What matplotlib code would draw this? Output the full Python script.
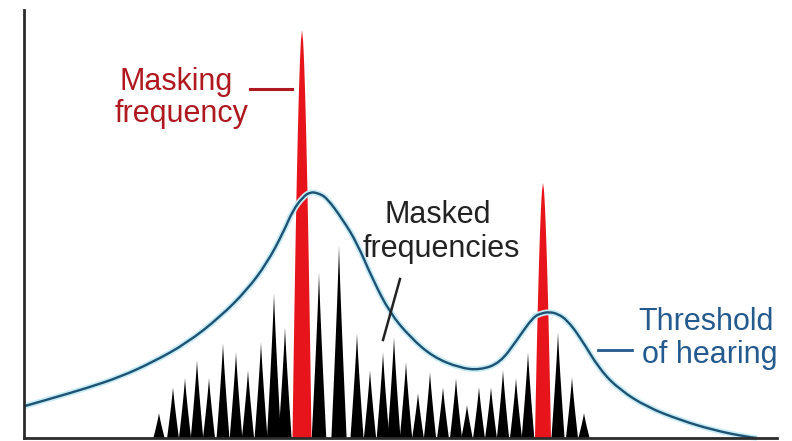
import numpy as np
import matplotlib
matplotlib.use("Agg")
import matplotlib.pyplot as plt
from matplotlib.patches import Polygon, PathPatch
from matplotlib.path import Path
import matplotlib.patheffects as pe

plt.rcParams['font.family'] = ['Liberation Sans', 'DejaVu Sans']

# Masked (quiet) tones: frequency position and level
masked_freq = [135, 149, 161, 173, 185, 199, 212, 224, 237, 250, 261,
               295, 315, 333, 346, 359, 370, 382, 394, 406, 419, 432, 443,
               455, 467, 479, 492, 504, 534, 548, 560]
masked_level = [25, 51, 60, 78, 60, 95, 86, 68, 96, 145, 111,
                166, 193, 105, 68, 86, 101, 76, 45, 66, 51, 60, 33,
                51, 51, 68, 60, 86, 106, 61, 25]

# Loud masking tones
masker_freq = [278, 519]
masker_level = [408, 255]
masker_halfwidth = [9.5, 8.0]

# Threshold of hearing in the presence of the maskers
thr_freq = [1, 29, 63, 96, 129, 163, 196, 223, 243, 259, 269, 279, 286, 294,
            303, 319, 333, 349, 366, 386, 409, 436, 456, 476, 493, 509, 518,
            526, 534, 543, 556, 576, 596, 623, 656, 689, 723, 733]
thr_level = [32, 40, 50, 61, 76, 95, 121, 148, 175, 205, 228, 241, 246, 245,
             240, 218, 195, 158, 125, 101, 81, 70, 68, 75, 98, 121, 125,
             126, 124, 118, 101, 68, 48, 31, 18, 8, 1, 0]

RED = '#e8141c'
DARK_RED = '#b0181f'
CURVE = '#1d5272'
BLUE_TEXT = '#245a8e'


def spike(x0, h, half, power, n=40):
    t = np.linspace(0, 1, n)
    w = half * (1 - t) ** power
    xs = np.concatenate([x0 - w, (x0 + w)[::-1]])
    ys = np.concatenate([h * t, (h * t)[::-1]])
    return np.column_stack([xs, ys])


def smooth_path(xs, ys):
    # quadratic Bezier path: sample points act as control points,
    # segments join at the midpoints between neighbours
    pts = np.column_stack([xs, ys]).astype(float)
    verts = [pts[0]]
    codes = [Path.MOVETO]
    for i in range(1, len(pts) - 1):
        mid = (pts[i] + pts[i + 1]) / 2
        if i == len(pts) - 2:
            mid = pts[i + 1]
        verts += [pts[i], mid]
        codes += [Path.CURVE3, Path.CURVE3]
    return Path(verts, codes)


fig = plt.figure(figsize=(7.92, 4.41), dpi=100)
ax = fig.add_axes([24 / 792, 3 / 441, 753 / 792, 428 / 441])
ax.set_xlim(0, 753)
ax.set_ylim(0, 428)

for x0, h in zip(masked_freq, masked_level):
    ax.add_patch(Polygon(spike(x0, h, 5.3 + 0.012 * h, 1.15),
                         closed=True, fc='black', ec='none', zorder=2))

for x0, h, hw in zip(masker_freq, masker_level, masker_halfwidth):
    ax.add_patch(Polygon(spike(x0, h, hw, 0.6),
                         closed=True, fc=RED, ec='none', zorder=3))

ax.add_patch(PathPatch(smooth_path(thr_freq, thr_level), fc='none',
                       ec=CURVE, lw=1.7, zorder=4, clip_on=False,
                       path_effects=[pe.Stroke(linewidth=4.2, foreground='#c8ecf6'),
                                     pe.Normal()]))

for s in ['top', 'right']:
    ax.spines[s].set_visible(False)
for s in ['left', 'bottom']:
    ax.spines[s].set_linewidth(2.0)
    ax.spines[s].set_color('#2b2b2b')
    ax.spines[s].set_zorder(5)
ax.set_xticks([])
ax.set_yticks([])

fs = 22
ax.text(96, 348, 'Masking', color=DARK_RED, fontsize=fs, ha='left', va='baseline')
ax.text(91, 316, 'frequency', color=DARK_RED, fontsize=fs, ha='left', va='baseline')
ax.plot([226, 268], [349, 349], color=DARK_RED, lw=2.2, zorder=4)

ax.text(361, 215, 'Masked', color='#222222', fontsize=fs, ha='left', va='baseline')
ax.text(339, 181, 'frequencies', color='#222222', fontsize=fs, ha='left', va='baseline')
ax.plot([376, 359], [159, 98], color='#222222', lw=1.8, zorder=5)

ax.text(614, 108, 'Threshold', color=BLUE_TEXT, fontsize=fs, ha='left', va='baseline')
ax.text(618, 75, 'of hearing', color=BLUE_TEXT, fontsize=fs, ha='left', va='baseline')
ax.plot([574, 608], [88, 88], color=BLUE_TEXT, lw=2.0, zorder=4)

fig.savefig('out.png', dpi=100, facecolor='white')
